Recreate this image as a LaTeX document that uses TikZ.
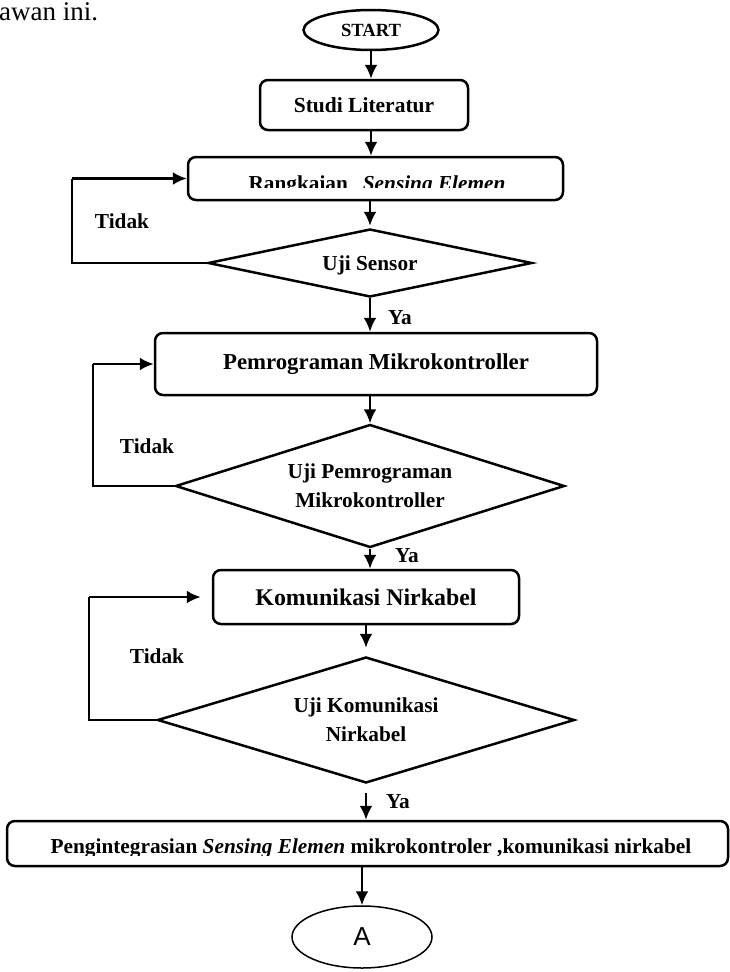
\documentclass[tikz,border=0pt]{standalone}
\usepackage{fontspec}
\setmainfont{Liberation Serif}
\newfontfamily\arialfont{Liberation Sans}
\usetikzlibrary{shapes.geometric,arrows.meta}
\tikzset{
  proc/.style={draw, line width=2.5pt, rounded corners=8pt, align=center, inner sep=0pt},
  decis/.style={draw, diamond, line width=2.5pt, align=center, inner sep=0pt,
    font=\bfseries\fontsize{21.3}{29}\selectfont},
  term/.style={draw, ellipse, inner sep=0pt},
  flow/.style={line width=2.5pt, -{Latex[length=14pt,width=13pt]}},
  back/.style={line width=1.3pt},
  backarrow/.style={line width=2.5pt, -{Latex[length=14pt,width=13pt]}},
  lbl/.style={inner sep=0pt, font=\bfseries\fontsize{21.3}{26}\selectfont},
}
\begin{document}
\begin{tikzpicture}[x=1pt,y=-1pt]
\useasboundingbox (0,0) rectangle (729,972);

% top body text fragment
\node[anchor=base west, inner sep=0pt, font=\fontsize{27}{30}\selectfont] (intro) at (-1,20) {awan ini.};

% nodes
\node[term, line width=2.5pt, minimum width=135pt, minimum height=40pt,
  font=\bfseries\fontsize{18.6}{22}\selectfont] (start) at (371,30) {START};
\node[proc, minimum width=208pt, minimum height=50pt,
  font=\bfseries\fontsize{21.5}{26}\selectfont] (studi) at (364,105) {Studi Literatur};
\node[proc, minimum width=375pt, minimum height=43pt] (rangk) at (375.5,178.5) {};
\begin{scope}
  \clip (190,150) rectangle (562,187);
  \node[lbl, anchor=base] (rangkt) at (377,190) {Rangkaian\hspace{0.45em} \textit{Sensing Elemen}};
\end{scope}
\node[decis, minimum width=324pt, minimum height=68pt, shape aspect=4.8, text depth=0pt] (d1) at (370,263) {Uji Sensor};
\node[proc, minimum width=442pt, minimum height=62pt,
  font=\bfseries\fontsize{22.8}{28}\selectfont] (pemro) at (376,364) {Pemrograman Mikrokontroller};
\node[decis, minimum width=389pt, minimum height=123pt, shape aspect=3.16] (d2) at (370,486) {Uji Pemrograman\\Mikrokontroller};
\node[proc, minimum width=306pt, minimum height=54pt,
  font=\bfseries\fontsize{23.9}{29}\selectfont] (kom) at (366,597) {Komunikasi Nirkabel};
\node[decis, minimum width=417pt, minimum height=126pt, shape aspect=3.3] (d3) at (366,720) {Uji Komunikasi\\Nirkabel};
\node[proc, minimum width=721pt, minimum height=45pt] (peng) at (367.5,843.5) {};
\begin{scope}
  \clip (8,825) rectangle (726,855);
  \node[lbl, anchor=base] (pengt) at (371,853) {Pengintegrasian \textit{Sensing Elemen} mikrokontroler ,komunikasi nirkabel};
\end{scope}
\node[term, line width=1.5pt, minimum width=140pt, minimum height=62pt,
  font=\arialfont\fontsize{26}{30}\selectfont] (A) at (362,937) {A};

% labels
\node[lbl] (t1) at (122,221) {Tidak};
\node[lbl] (t2) at (147,446) {Tidak};
\node[lbl] (t3) at (157,656) {Tidak};
\node[lbl] (y1) at (400,318) {Ya};
\node[lbl] (y2) at (407,556) {Ya};
\node[lbl] (y3) at (398,802) {Ya};

% main flow
\draw[flow] (start.south) -- (start.south |- studi.north);
\draw[flow] (studi.south -| start.south) -- (rangk.north -| start.south);
\draw[flow, shorten >=2pt] (rangk.south -| d1.north) -- (d1.north);
\draw[flow] (d1.south) -- (d1.south |- pemro.north);
\draw[flow] (pemro.south -| d2.north) -- (d2.north);
\draw[flow] (d2.south) -- (d2.south |- kom.north);
\draw[flow, shorten >=8pt] (kom.south -| d3.north) -- (d3.north);
\draw[flow, shorten <=9pt] (d3.south) -- (d3.south |- peng.north);
\draw[flow] (peng.south -| A.north) -- (A.north);

% loops (Tidak)
\coordinate (l1) at (72,178.5);
\draw[back] (d1.west) -| (l1);
\draw[backarrow] (l1) -- (rangk.west);
\coordinate (l2) at (93,364);
\draw[back] (d2.west) -| (l2);
\draw[backarrow] (l2) -- (pemro.west);
\coordinate (l3) at (89,597);
\draw[back] (d3.west) -| (l3);
\draw[backarrow, shorten >=11pt] (l3) -- (kom.west);
\end{tikzpicture}
\end{document}
